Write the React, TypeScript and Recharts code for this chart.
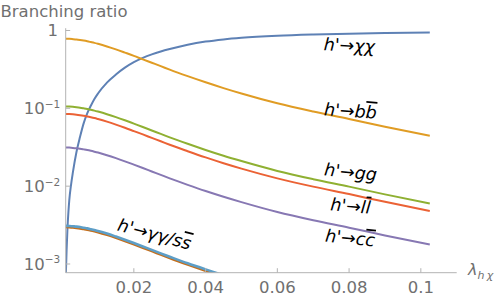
import React from 'react';
import { LineChart, Line, XAxis, YAxis } from 'recharts';

// lambda grid for the SM decay channels
const lambdaGrid = [0.001, 0.002, 0.003, 0.004, 0.005, 0.006, 0.007, 0.008, 0.009, 0.01, 0.0125, 0.015, 0.0175, 0.02, 0.0225, 0.025, 0.0275, 0.03, 0.035, 0.04, 0.045, 0.05, 0.06, 0.07, 0.08, 0.09, 0.1025];

const brBB = [0.785, 0.781, 0.774, 0.766, 0.755, 0.742, 0.727, 0.71, 0.693, 0.674, 0.624, 0.572, 0.52, 0.472, 0.426, 0.385, 0.348, 0.314, 0.259, 0.216, 0.182, 0.155, 0.116, 0.091, 0.073, 0.058, 0.0445];
const brGG = [0.1058, 0.1053, 0.1044, 0.1032, 0.1018, 0.1, 0.0981, 0.0958, 0.0934, 0.0908, 0.0841, 0.0771, 0.0702, 0.0636, 0.0576, 0.0519, 0.047, 0.0424, 0.035, 0.0292, 0.0246, 0.021, 0.0157, 0.0123, 0.00986, 0.00784, 0.006];
const brLL = [0.0848, 0.0844, 0.0837, 0.0828, 0.0816, 0.0802, 0.0786, 0.0768, 0.0749, 0.0728, 0.0674, 0.0618, 0.0563, 0.051, 0.0462, 0.0417, 0.0377, 0.034, 0.0281, 0.0234, 0.0197, 0.0168, 0.0126, 0.00986, 0.00791, 0.00629, 0.00481];
const brCC = [0.03144, 0.03128, 0.03103, 0.03068, 0.03024, 0.0297, 0.02914, 0.02848, 0.02775, 0.027, 0.02498, 0.0229, 0.02085, 0.0189, 0.0171, 0.01544, 0.01395, 0.0126, 0.0104, 0.00866, 0.00731, 0.00624, 0.00466, 0.00365, 0.00293, 0.00233, 0.00178];
const brSS = [0.002955, 0.00294, 0.002916, 0.002883, 0.002842, 0.002791, 0.002738, 0.002676, 0.002608, 0.002537, 0.002347, 0.002152, 0.00196, 0.001776, 0.001607, 0.00145, 0.001311, 0.001184, 0.000977, 0.000814, 0.000687, 0.000586, null, null, null, null, null];
const brGamGam = [0.00309, 0.00308, 0.00305, 0.00302, 0.00298, 0.00292, 0.00287, 0.0028, 0.00273, 0.00266, 0.00246, 0.00225, 0.00205, 0.00186, 0.00168, 0.00152, 0.00137, 0.00124, 0.00102, 0.000853, 0.000719, 0.000614, null, null, null, null, null];

// lambda grid for the invisible channel (finer near the origin)
const lambdaChi = [0.001, 0.0011, 0.00125, 0.0015, 0.00175, 0.002, 0.0025, 0.003, 0.004, 0.005, 0.006, 0.007, 0.008, 0.009, 0.01, 0.0125, 0.015, 0.0175, 0.02, 0.0225, 0.025, 0.0275, 0.03, 0.035, 0.04, 0.045, 0.05, 0.06, 0.07, 0.08, 0.09, 0.1025];
const brChi = [0.0007, 0.0009, 0.0015, 0.0029, 0.0046, 0.0066, 0.0105, 0.015, 0.0275, 0.043, 0.064, 0.086, 0.108, 0.132, 0.155, 0.214, 0.272, 0.333, 0.392, 0.445, 0.493, 0.537, 0.578, 0.656, 0.72, 0.768, 0.805, 0.855, 0.887, 0.91, 0.928, 0.945];

const xTicks = [0.02, 0.04, 0.06, 0.08, 0.1];
const xTickLabels = ['0.02', '0.04', '0.06', '0.08', '0.1'];
const yTicks = [0.001, 0.01, 0.1, 1];
const yTickExponents = ['\u22123', '\u22122', '\u22121', ''];

const xDomain = [0.001, 0.11];
const yDomain = [0.000773, 1.07];

const toSeries = (xs: number[], ys: (number | null)[]) =>
  xs.map((x, i) => ({ x, y: ys[i] })).filter((p) => p.y !== null);

const AXIS = '#b3b3b3';
const TICK_TEXT = '#707070';
const FONT = '"DejaVu Sans", sans-serif';

const XTick = (props: any) => {
  const { x, y, payload } = props;
  const i = xTicks.indexOf(payload.value);
  return (
    <g>
      <line x1={x} x2={x} y1={y} y2={y - 4.5} stroke={AXIS} strokeWidth={1} />
      <text x={x} y={y + 20.6} textAnchor="middle" fontFamily={FONT} fontSize={16.5} fill={TICK_TEXT}>
        {xTickLabels[i]}
      </text>
    </g>
  );
};

const YTick = (props: any) => {
  const { x, y, payload } = props;
  const i = yTicks.indexOf(payload.value);
  const exp = yTickExponents[i];
  return (
    <g>
      <line x1={x} x2={x + 4.5} y1={y} y2={y} stroke={AXIS} strokeWidth={1} />
      {exp === '' ? (
        <text x={x - 7.7} y={y + 6} textAnchor="end" fontFamily={FONT} fontSize={16.5} fill={TICK_TEXT}>
          1
        </text>
      ) : (
        <text x={x - 42} y={y + 6} textAnchor="start" fontFamily={FONT} fontSize={16.5} fill={TICK_TEXT}>
          10
          <tspan fontSize={10.5} dy={-6.5}>{exp}</tspan>
        </text>
      )}
    </g>
  );
};

const series = [
  { key: 'chi', data: toSeries(lambdaChi, brChi), color: '#5E81B5', w: 2 },
  { key: 'bb', data: toSeries(lambdaGrid, brBB), color: '#E09C24', w: 2 },
  { key: 'gg', data: toSeries(lambdaGrid, brGG), color: '#8FB032', w: 2 },
  { key: 'll', data: toSeries(lambdaGrid, brLL), color: '#EB6235', w: 2 },
  { key: 'cc', data: toSeries(lambdaGrid, brCC), color: '#8778B3', w: 2 },
  { key: 'ss', data: toSeries(lambdaGrid, brSS), color: '#C56E1A', w: 2 },
  { key: 'gamgam', data: toSeries(lambdaGrid, brGamGam), color: '#5D9EC7', w: 2.6 },
];

const LBL = { fontFamily: FONT, fontStyle: 'italic' as const, fontSize: 17.5, fill: '#000' };
const OL = { textDecoration: 'overline' };

const Labels = () => (
  <svg width={498} height={299} style={{ position: 'absolute', left: 0, top: 0, pointerEvents: 'none' }}>
    <text x={0.5} y={16.7} fontFamily={FONT} fontSize={16.5} fill={TICK_TEXT}>Branching ratio</text>
    <text x={468} y={274.5} fontFamily={FONT} fontSize={16} fontStyle="italic" fill={TICK_TEXT}>
      λ<tspan fontSize={11} dy={4}>h{'\u2009'}χ</tspan>
    </text>
    <text x={349} y={51.5} textAnchor="middle" transform="rotate(3 349 51.5)" {...LBL}>h'→χχ</text>
    <text x={350} y={117} textAnchor="middle" transform="rotate(4 350 117)" {...LBL}>
      h'→b<tspan style={OL}>b</tspan>
    </text>
    <text x={350} y={178} textAnchor="middle" transform="rotate(6 350 178)" {...LBL}>h'→gg</text>
    <text x={350} y={212} textAnchor="middle" transform="rotate(5 350 212)" {...LBL}>
      h'→l<tspan style={OL}>l</tspan>
    </text>
    <text x={349.5} y={244} textAnchor="middle" transform="rotate(6 349.5 244)" {...LBL}>
      h'→c<tspan style={OL}>c</tspan>
    </text>
    <text x={153} y={240} textAnchor="middle" transform="rotate(15 153 240)" {...LBL}>
      h'→γγ/s<tspan style={OL}>s</tspan>
    </text>
  </svg>
);

export default function App() {
  return (
    <div style={{ position: 'absolute', left: 0, top: 0, width: 498, height: 299, background: '#fff' }}>
      <LineChart width={498} height={299} margin={{ top: 28.2, right: 41.3, bottom: 6.3, left: 5.7 }}>
        <XAxis
          dataKey="x"
          type="number"
          domain={xDomain}
          allowDataOverflow
          ticks={xTicks}
          interval={0}
          height={20}
          tickSize={0}
          tickMargin={0}
          tickLine={false}
          axisLine={{ stroke: AXIS }}
          tick={<XTick />}
        />
        <YAxis
          type="number"
          scale="log"
          domain={yDomain}
          allowDataOverflow
          ticks={yTicks}
          interval={0}
          width={60}
          tickSize={0}
          tickMargin={0}
          tickLine={false}
          axisLine={{ stroke: AXIS }}
          tick={<YTick />}
        />
        {series.map((s) => (
          <Line
            key={s.key}
            data={s.data}
            dataKey="y"
            type="monotone"
            stroke={s.color}
            strokeWidth={s.w}
            dot={false}
            activeDot={false}
            isAnimationActive={false}
          />
        ))}
      </LineChart>
      <Labels />
    </div>
  );
}
